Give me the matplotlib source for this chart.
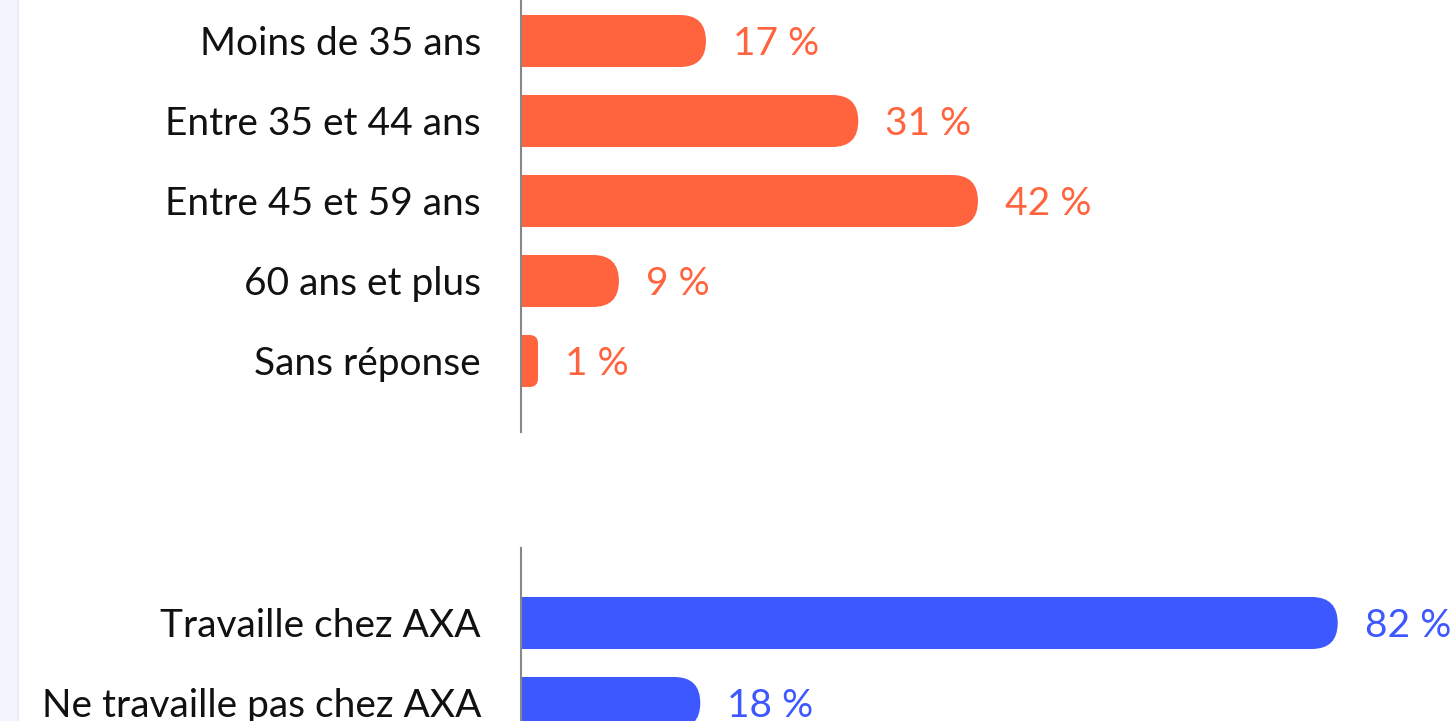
import matplotlib
matplotlib.use("Agg")
import matplotlib.pyplot as plt
from matplotlib.patches import FancyBboxPatch, Rectangle

plt.rcParams['font.family'] = ['Lato', 'DejaVu Sans']

age_labels = ["Moins de 35 ans", "Entre 35 et 44 ans", "Entre 45 et 59 ans",
              "60 ans et plus", "Sans réponse"]
age_values = [17, 31, 42, 9, 1]
axa_labels = ["Travaille chez AXA", "Ne travaille pas chez AXA"]
axa_values = [82, 18]

ORANGE = "#FF643F"
BLUE = "#3D58FF"
W, H, DPI = 1451, 721, 100
FS = 28
fig = plt.figure(figsize=(W / DPI, H / DPI), dpi=DPI)
fig.patch.set_facecolor("white")
# left lavender strip
fig.patches.append(Rectangle((0, 0), 17 / W, 1, transform=fig.transFigure,
                             facecolor="#F4F4FE", edgecolor="none"))
fig.patches.append(Rectangle((17 / W, 0), 2 / W, 1, transform=fig.transFigure,
                             facecolor="#ECECF2", edgecolor="none"))

AX_LEFT = 521
BAR_H_PX = 52
ROW_PX = 80
MIN_BAR_PX = 17
PT = 72 / DPI  # points per pixel


def make_panel(top_px, bottom_px, first_center_px, labels, values, color, px_per_unit):
    ax = fig.add_axes([AX_LEFT / W, 1 - bottom_px / H, (W - AX_LEFT) / W, (bottom_px - top_px) / H])
    xmax = (W - AX_LEFT) / px_per_unit
    ymin = (top_px - first_center_px) / ROW_PX
    ymax = (bottom_px - first_center_px) / ROW_PX
    ax.set_xlim(0, xmax)
    ax.set_ylim(ymax, ymin)
    ax.set_facecolor("none")
    for s in ["top", "right", "bottom"]:
        ax.spines[s].set_visible(False)
    ax.spines["left"].set_color("#888888")
    ax.spines["left"].set_linewidth(1.5)
    ax.set_xticks([])
    ax.set_yticks([])
    bh = BAR_H_PX / ROW_PX
    aspect = px_per_unit / ROW_PX
    for i, v in enumerate(values):
        wpx = max(v * px_per_unit, MIN_BAR_PX)
        w = wpx / px_per_unit
        r_px = min(BAR_H_PX / 2, wpx / 2)
        r = r_px / px_per_unit
        p = FancyBboxPatch((0, i - bh / 2), w, bh,
                           boxstyle=f"round,pad=0,rounding_size={r}",
                           mutation_aspect=aspect, facecolor=color,
                           edgecolor="none", zorder=2)
        ax.add_patch(p)
        ax.add_patch(Rectangle((0, i - bh / 2), w / 2, bh, facecolor=color,
                               edgecolor="none", zorder=2))
        ax.annotate(f"{v} %", xy=(w, i), xytext=(27 * PT, -3 * PT), textcoords="offset points",
                    va="center", ha="left", fontsize=FS, color=color,
                    annotation_clip=False)
        ax.annotate(labels[i], xy=(0, i), xytext=(-40 * PT, -3 * PT), textcoords="offset points",
                    va="center", ha="right", fontsize=FS, color="#111111",
                    annotation_clip=False)
    return ax


make_panel(0, 432, 41, age_labels, age_values, ORANGE, 10.88)
make_panel(548, 721, 623, axa_labels, axa_values, BLUE, 9.96)

fig.savefig("out.png", dpi=DPI)
